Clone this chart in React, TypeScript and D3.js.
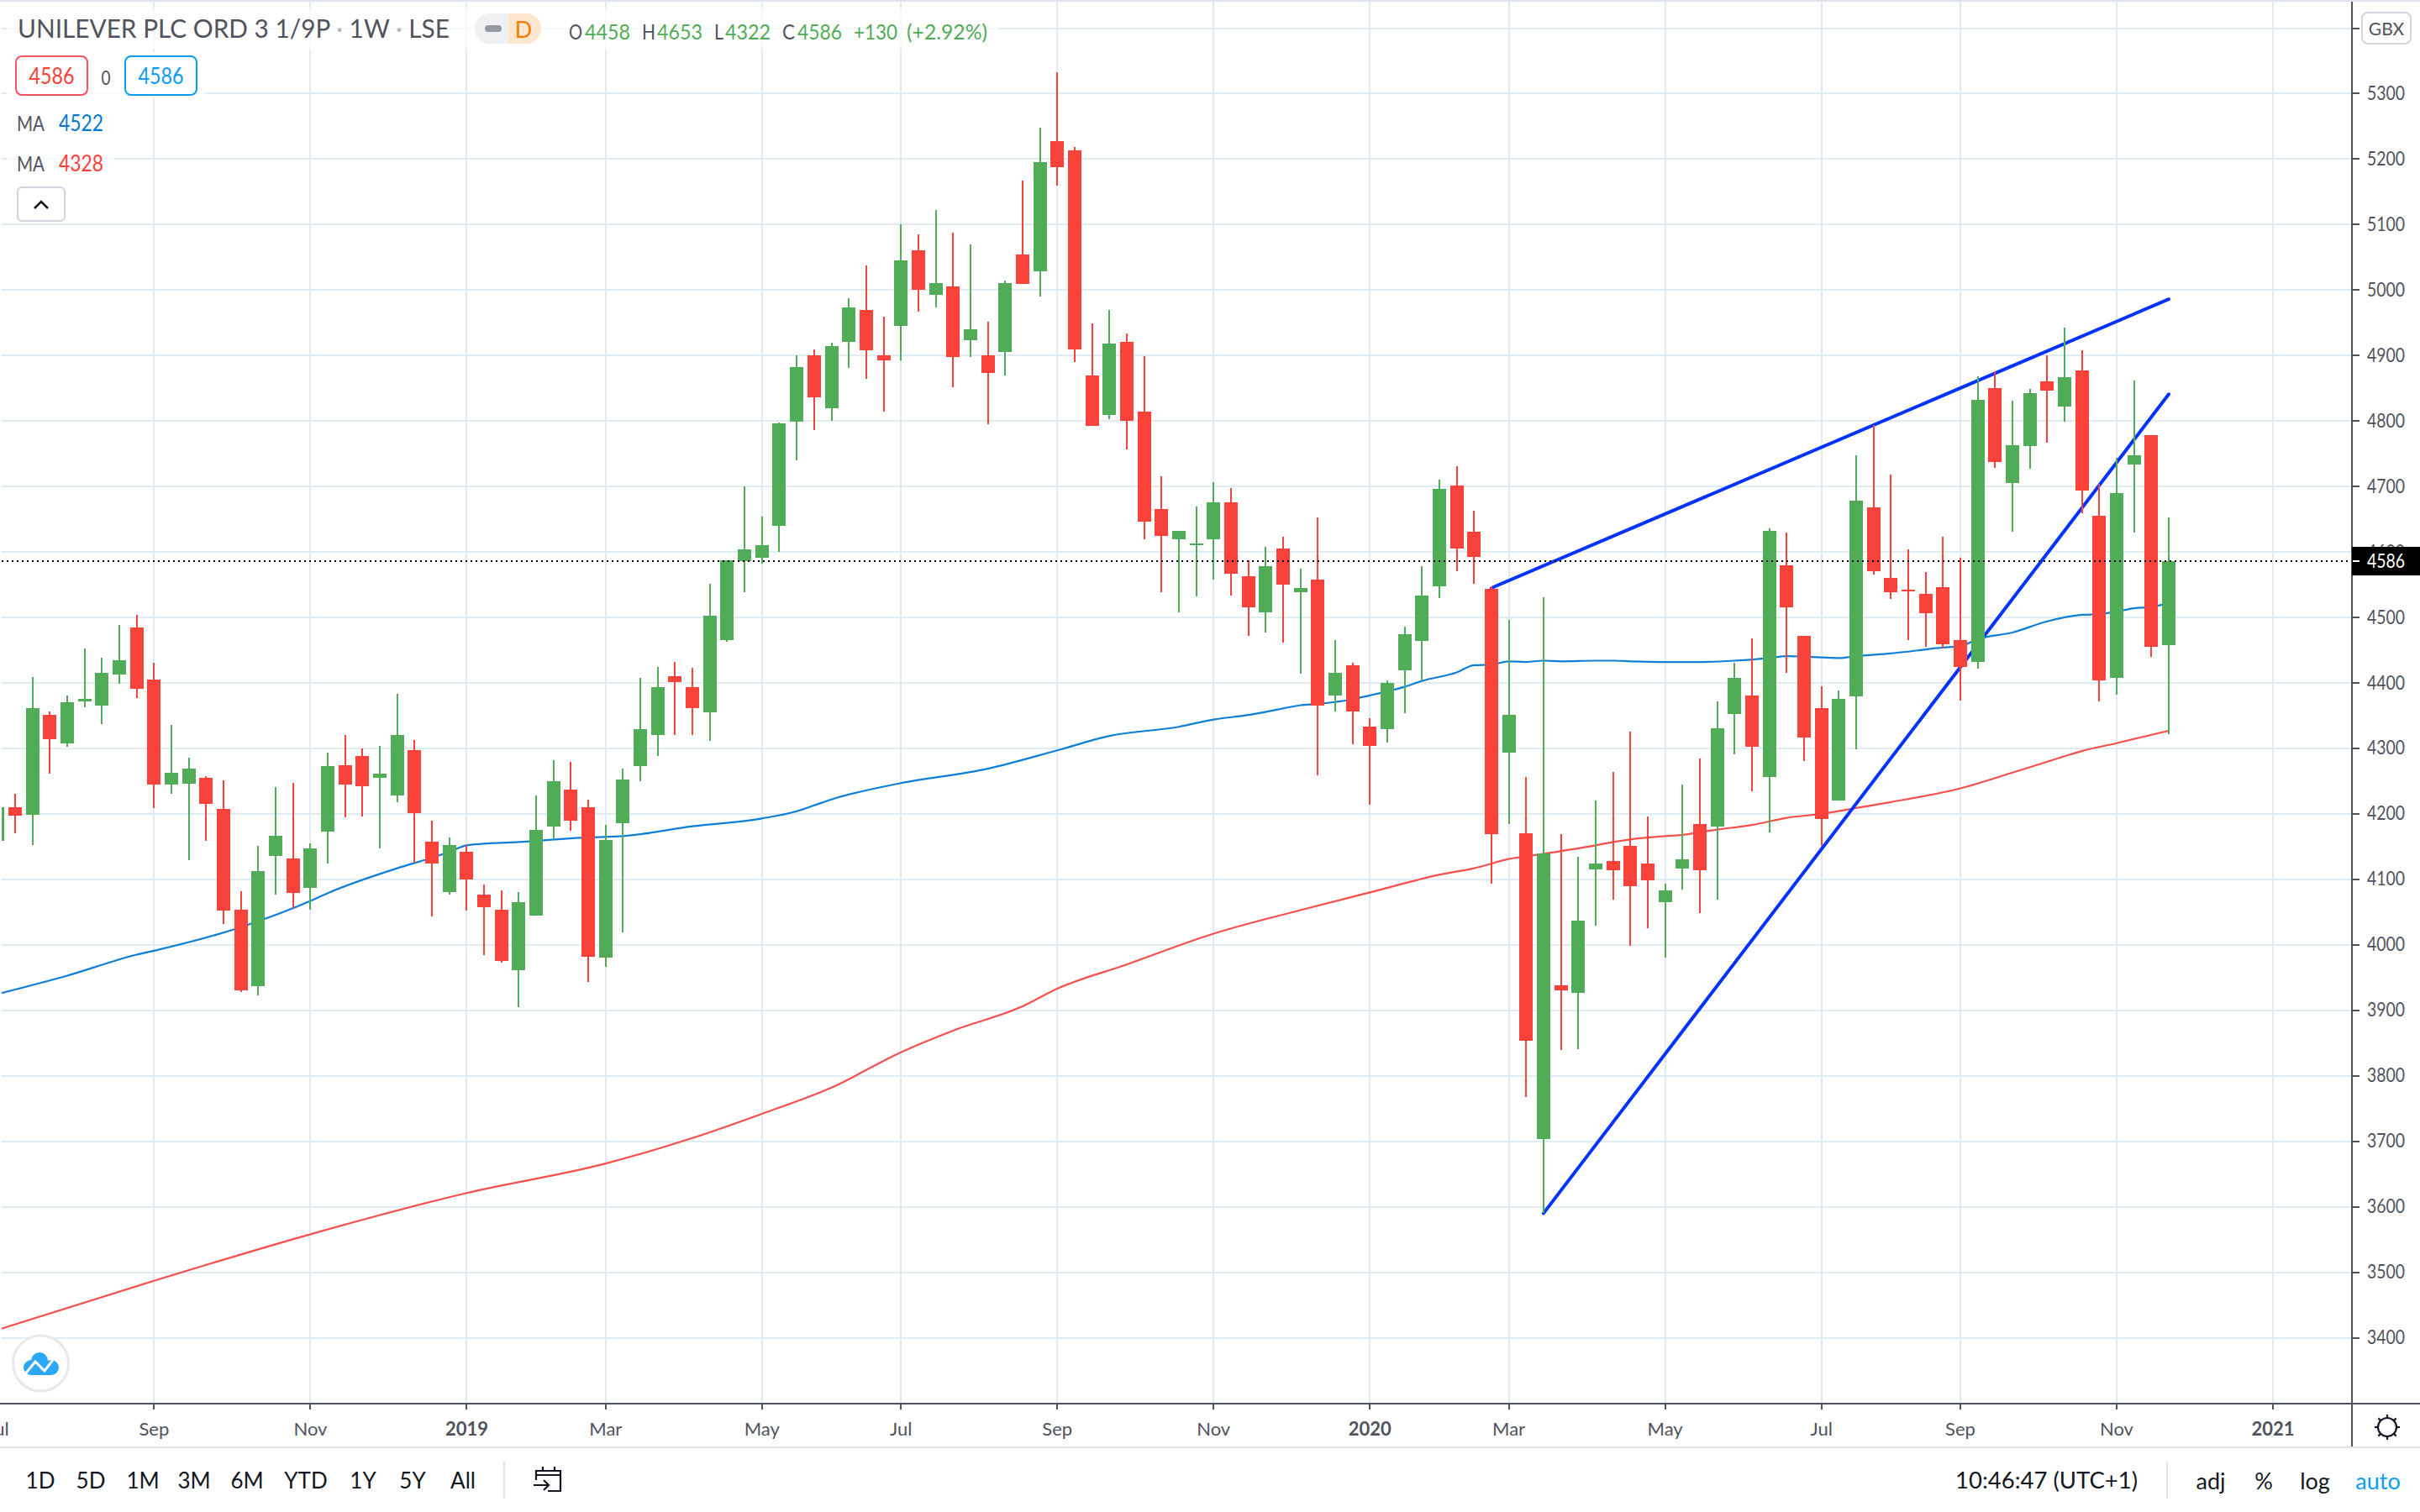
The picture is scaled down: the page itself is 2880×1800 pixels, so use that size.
import React from "react";
import * as d3 from "d3";

const opens = [4159,4210,4199,4351,4308,4372,4365,4413,4485,4405,4245,4246,4255,4208,4054,3937,4136,4132,4087,4173,4274,4288,4255,4228,4298,4157,4080,4142,4077,4054,3961,4045,4181,4237,4210,3980,4186,4273,4321,4410,4394,4355,4466,4586,4591,4640,4799,4900,4820,4921,4969,4900,4945,5061,4993,5005,4923,4900,4905,5054,5028,5228,5213,4869,4809,4921,4814,4665,4619,4611,4620,4676,4563,4508,4605,4538,4558,4381,4427,4333,4330,4419,4464,4547,4701,4631,4544,4294,4170,3704,3938,3927,4115,4128,4151,4124,4065,4116,4185,4180,4353,4381,4256,4579,4472,4361,4220,4380,4668,4560,4542,4536,4546,4466,4432,4850,4705,4762,4861,4822,4877,4655,4408,4734,4779,4458];
const highs = [4225,4231,4409,4356,4381,4452,4439,4489,4504,4431,4336,4286,4258,4251,4082,4151,4241,4247,4155,4293,4320,4300,4304,4383,4313,4189,4164,4152,4092,4083,4080,4228,4282,4279,4222,4183,4269,4408,4425,4432,4423,4551,4587,4700,4654,4798,4900,4909,4919,4988,5038,4959,5100,5085,5122,5088,5070,4952,5015,5167,5248,5333,5219,4949,4970,4934,4899,4715,4632,4670,4706,4697,4587,4608,4623,4574,4653,4466,4431,4346,4404,4486,4578,4710,4731,4663,4547,4496,4256,4531,4169,4135,4221,4264,4326,4196,4094,4245,4285,4372,4431,4468,4636,4630,4472,4395,4389,4748,4794,4718,4604,4569,4623,4591,4868,4876,4831,4849,4900,4943,4908,4704,4744,4862,4779,4653];
const lows = [4140,4170,4152,4261,4303,4363,4337,4399,4377,4209,4231,4129,4159,4032,3928,3923,4077,4056,4054,4124,4195,4196,4147,4218,4126,4044,4077,4052,3984,3973,3905,4045,4162,4174,3943,3966,4019,4250,4289,4321,4321,4312,4463,4539,4582,4600,4740,4786,4800,4881,4864,4815,4892,4967,4974,4852,4898,4795,4869,5009,4990,5160,4890,4793,4803,4756,4620,4539,4508,4532,4558,4534,4472,4477,4461,4414,4259,4356,4306,4214,4309,4354,4402,4529,4570,4551,4094,4184,3768,3590,3840,3841,4029,4069,3998,4025,3981,4084,4049,4069,4291,4235,4172,4416,4281,4151,4220,4299,4566,4528,4466,4455,4452,4373,4422,4729,4631,4727,4767,4799,4659,4372,4382,4629,4440,4322];
const closes = [4210,4197,4362,4314,4370,4375,4415,4435,4391,4245,4263,4269,4215,4052,3931,4112,4167,4079,4147,4273,4245,4242,4261,4320,4201,4124,4152,4100,4058,3975,4065,4176,4250,4189,3982,4160,4253,4329,4394,4401,4362,4503,4587,4604,4610,4796,4883,4836,4914,4973,4908,4893,5045,5001,5011,4898,4940,4873,5011,5009,5196,5188,4909,4793,4918,4800,4646,4625,4632,4613,4676,4567,4515,4578,4550,4545,4366,4416,4356,4304,4400,4474,4533,4696,4605,4592,4169,4351,3854,4139,3930,4037,4124,4114,4090,4098,4083,4131,4114,4331,4408,4303,4632,4516,4316,4192,4376,4678,4571,4538,4540,4507,4459,4425,4832,4738,4763,4842,4846,4867,4694,4404,4690,4748,4455,4586];

const blueMaIdx = [0,4,8,9,14,18,19,23,25,26,27,30,34,36,40,44,46,47,48,52,57,61,64,68,70,72,74,75,76,78,79,80,81,82,84,85,86,87,88,89,90,92,93,94,96,98,100,102,103,104,105,106,107,109,112,113,114,116,118,120,121,122,123,124,125];
const blueMaVal = [3925,3953,3985,3991,4027,4067,4079,4117,4133,4142,4152,4157,4164,4166,4181,4193,4204,4213,4222,4247,4269,4297,4319,4333,4344,4351,4361,4366,4368,4375,4381,4387,4394,4403,4416,4427,4428,4433,4432,4434,4433,4434,4434,4433,4432,4432,4434,4438,4441,4440,4439,4438,4441,4445,4454,4456,4467,4477,4494,4504,4505,4509,4514,4516,4522];
const redMaIdx = [0,9,18,27,35,40,44,48,52,55,59,61,65,70,75,79,83,85,87,89,92,93,94,96,97,99,101,103,105,107,109,113,116,119,120,122,125];
const redMaVal = [3412,3487,3558,3621,3666,3705,3742,3782,3836,3869,3906,3933,3970,4017,4053,4080,4107,4117,4131,4139,4152,4157,4161,4166,4168,4176,4183,4194,4200,4209,4218,4239,4263,4288,4296,4308,4327];

const trendLineA = [[86,4545],[125,4986]];
const trendLineB = [[89,3590],[125,4841]];

const priceTicks = [5300,5200,5100,5000,4900,4800,4700,4600,4500,4400,4300,4200,4100,4000,3900,3800,3700,3600,3500,3400];
const timeTickIdx = [0,9,18,27,35,44,52,61,70,79,87,96,105,113,122,131];
const timeTickLabels = ["Jul","Sep","Nov","2019","Mar","May","Jul","Sep","Nov","2020","Mar","May","Jul","Sep","Nov","2021"];
const yearLabels = ["2019","2020","2021"];
const rangeLabels = ["1D","5D","1M","3M","6M","YTD","1Y","5Y","All"];
const rangeCenters = [48,108,170,231,294,364,432,491,551];
const lastPrice = 4586;

const FONT = "Lato, 'Noto Sans', sans-serif";
const GREEN = "#50ac56";
const RED = "#f94239";
const GRID = "#e1ebf2";
const AXIS = "#50535e";
const INK = "#131722";

const x = d3.scaleLinear().domain([0, 125]).range([-2.6, 2581]);
const y = d3.scaleLinear().domain([4600, 3400]).range([657.1, 1592.5]);

function pathOf(idx: number[], val: number[]) {
  return d3
    .line<number>()
    .x((i) => x(idx[i]))
    .y((i) => y(val[i]))
    .curve(d3.curveMonotoneX)(d3.range(idx.length)) as string;
}

function T(p: any) {
  const { w, size = 22, fill = AXIS, anchor = "start", bold, children, ...rest } = p;
  return (
    <text
      fontFamily={FONT}
      fontSize={size}
      fill={fill}
      textAnchor={anchor}
      fontWeight={bold ? 700 : 400}
      dominantBaseline="central"
      textLength={w}
      lengthAdjust={w ? "spacingAndGlyphs" : undefined}
      {...rest}
    >
      {children}
    </text>
  );
}

export default function App() {
  return (
    <svg
      width={2880}
      height={1800}
      viewBox="0 0 2880 1800"
      style={{ position: "absolute", left: 0, top: 0, display: "block", background: "#fff" }}
    >
      <defs>
        <clipPath id="plot">
          <rect x={2} y={2} width={2796} height={1668} />
        </clipPath>
      </defs>
      <rect x={0} y={0} width={2880} height={2} fill="#e0e3eb" />

      <g stroke={GRID} strokeWidth={2}>
        {[5400, ...priceTicks].map((p) => (
          <line key={p} x1={2} x2={2798} y1={Math.round(y(p))} y2={Math.round(y(p))} />
        ))}
        {timeTickIdx.filter((i) => x(i) > 2).map((i) => (
          <line key={i} x1={Math.round(x(i))} x2={Math.round(x(i))} y1={2} y2={1670} />
        ))}
      </g>

      <g clipPath="url(#plot)">
        <path d={pathOf(blueMaIdx, blueMaVal)} fill="none" stroke="#0d7fd6" strokeWidth={2.2} />
        <path d={pathOf(redMaIdx, redMaVal)} fill="none" stroke="#f6504c" strokeWidth={2.2} />
        {[trendLineA, trendLineB].map((l, k) => (
          <line
            key={k}
            x1={x(l[0][0])}
            y1={y(l[0][1])}
            x2={x(l[1][0])}
            y2={y(l[1][1])}
            stroke="#0433ff"
            strokeWidth={4}
            strokeLinecap="round"
          />
        ))}
        {opens.map((o, i) => {
          const c = closes[i];
          const col = c >= o ? GREEN : RED;
          const top = Math.round(y(Math.max(o, c)));
          const bot = Math.round(y(Math.min(o, c)));
          const cx = Math.round(x(i));
          const hi = Math.round(y(highs[i]));
          const lo = Math.round(y(lows[i]));
          return (
            <g key={i} fill={col}>
              <rect x={cx - 1} width={2} y={hi} height={lo - hi} />
              <rect x={cx - 8} width={16} y={top} height={Math.max(bot - top, 2)} />
            </g>
          );
        })}
        <line x1={2} x2={2798} y1={Math.round(y(lastPrice))} y2={Math.round(y(lastPrice))} stroke="#000" strokeWidth={2} strokeDasharray="2 4" />
      </g>

      {/* overlay legend backing */}
      <g fill="#fff" fillOpacity={0.7}>
        <rect x={8} y={10} width={1180} height={48} />
        <rect x={8} y={62} width={236} height={56} />
        <rect x={8} y={124} width={128} height={90} />
      </g>

      {/* axes */}
      <line x1={2799} x2={2799} y1={2} y2={1722} stroke={AXIS} strokeWidth={2} />
      <line x1={0} x2={2880} y1={1671} y2={1671} stroke={AXIS} strokeWidth={2} />
      <rect x={0} y={1722} width={2880} height={2} fill="#e0e3eb" />
      {[5400, ...priceTicks].map((p) => (
        <line key={p} x1={2800} x2={2808} y1={Math.round(y(p))} y2={Math.round(y(p))} stroke={AXIS} strokeWidth={2} />
      ))}
      {priceTicks.map((p) => (
        <T key={p} x={2817} y={y(p) - 1.5} size={23} w={45}>
          {p}
        </T>
      ))}
      {timeTickIdx.map((i) =>
        x(i) > 0 ? <line key={i} x1={Math.round(x(i))} x2={Math.round(x(i))} y1={1671} y2={1678} stroke={AXIS} strokeWidth={2} /> : null
      )}
      {timeTickIdx.map((i, k) => (
        <T key={k} x={x(i)} y={1700} anchor="middle" bold={yearLabels.includes(timeTickLabels[k])}>
          {timeTickLabels[k]}
        </T>
      ))}

      {/* last price */}
      <rect x={2799} y={651} width={81} height={34} fill="#000" />
      <line x1={2800} x2={2808} y1={Math.round(y(lastPrice))} y2={Math.round(y(lastPrice))} stroke="#fff" strokeWidth={2} />
      <T x={2817} y={y(lastPrice) - 1} size={23} w={45} fill="#fff">
        {lastPrice}
      </T>

      {/* currency */}
      <rect x={2811} y={15} width={58} height={37} rx={7} fill="#fff" stroke="#d1d4dc" strokeWidth={2} />
      <T x={2840} y={33} anchor="middle" size={21}>
        GBX
      </T>

      {/* header */}
      <T x={21} y={33} size={30} w={514}>
        UNILEVER PLC ORD 3 1/9P <tspan fill="#b2b5be">·</tspan> 1W <tspan fill="#b2b5be">·</tspan> LSE
      </T>
      <path d="M605 16 H583 a18 18 0 0 0 0 36 H605 Z" fill="#eef0f2" />
      <path d="M605 16 H626 a18 18 0 0 1 0 36 H605 Z" fill="#ffe6cf" />
      <rect x={577} y={30} width={20} height={8} rx={4} fill="#9598a1" />
      <T x={623} y={34} anchor="middle" size={27} fill="#f57c00">
        D
      </T>
      <T x={677} y={37} size={25} w={16}>O</T>
      <T x={696} y={37} size={25} w={54} fill={GREEN}>4458</T>
      <T x={764} y={37} size={25} w={16}>H</T>
      <T x={782} y={37} size={25} w={54} fill={GREEN}>4653</T>
      <T x={850} y={37} size={25} w={11}>L</T>
      <T x={863} y={37} size={25} w={54} fill={GREEN}>4322</T>
      <T x={931} y={37} size={25} w={15}>C</T>
      <T x={949} y={37} size={25} w={53} fill={GREEN}>4586</T>
      <T x={1016} y={37} size={25} w={52} fill={GREEN}>+130</T>
      <T x={1079} y={37} size={25} w={96} fill={GREEN}>(+2.92%)</T>

      {/* pre/post boxes */}
      <rect x={19} y={67} width={85} height={46} rx={7} fill="#fff" stroke="#f7525f" strokeWidth={2} />
      <T x={61.5} y={90} anchor="middle" size={26} w={54} fill={RED}>4586</T>
      <T x={126} y={91} anchor="middle" size={24} w={11} fill={AXIS}>0</T>
      <rect x={149} y={67} width={85} height={46} rx={7} fill="#fff" stroke="#0a9df5" strokeWidth={2} />
      <T x={191.5} y={90} anchor="middle" size={26} w={54} fill="#0a9df5">4586</T>
      <T x={20} y={146} size={25} w={33}>MA</T>
      <T x={70} y={146} size={26} w={53} fill="#0078d0">4522</T>
      <T x={20} y={194} size={25} w={33}>MA</T>
      <T x={70} y={194} size={26} w={53} fill={RED}>4328</T>
      <rect x={21} y={223} width={56} height={40} rx={5} fill="#fff" stroke="#d1d4dc" strokeWidth={2} />
      <path d="M41 248 L49 240 L57 248" fill="none" stroke={INK} strokeWidth={2.6} />

      {/* logo */}
      <circle cx={48.5} cy={1623} r={33} fill="#fff" stroke="#e8e8e8" strokeWidth={3} />
      <g fill="#2ba8f5">
        <circle cx={37} cy={1628} r={9} />
        <circle cx={47} cy={1620} r={10} />
        <circle cx={61} cy={1628} r={9} />
        <rect x={37} y={1624} width={24} height={13} />
      </g>
      <path d="M29 1637 L42 1621 L53 1632 L63 1619" fill="none" stroke="#fff" strokeWidth={3} />

      {/* toolbar */}
      {rangeLabels.map((l, i) => (
        <T key={l} x={rangeCenters[i]} y={1762} anchor="middle" size={26} fill={INK}>
          {l}
        </T>
      ))}
      <rect x={599} y={1740} width={2} height={44} fill="#e0e3eb" />
      <g fill="none" stroke={INK} strokeWidth={2.2}>
        <path d="M638 1762 V1751 H667 V1775 H652" />
        <path d="M638 1756 H667 M646 1746 V1751 M660 1746 V1751" />
        <path d="M635 1768 H653 M647 1762 L653 1768 L647 1774" />
      </g>
      <T x={2544} y={1762} anchor="end" size={26} w={217} fill={INK}>
        10:46:47 (UTC+1)
      </T>
      <rect x={2578} y={1740} width={2} height={44} fill="#e0e3eb" />
      <T x={2631} y={1762} anchor="middle" size={27} fill={INK}>adj</T>
      <T x={2694} y={1762} anchor="middle" size={27} fill={INK}>%</T>
      <T x={2755} y={1762} anchor="middle" size={27} fill={INK}>log</T>
      <T x={2830} y={1762} anchor="middle" size={27} fill="#0a9df5">auto</T>

      {/* settings */}
      <g stroke={INK} strokeWidth={2.2} fill="none">
        <circle cx={2841} cy={1699} r={11} />
        {d3.range(8).map((k) => {
          const a = (k * Math.PI) / 4;
          return (
            <line
              key={k}
              x1={2841 + 11 * Math.cos(a)}
              y1={1699 + 11 * Math.sin(a)}
              x2={2841 + 15 * Math.cos(a)}
              y2={1699 + 15 * Math.sin(a)}
            />
          );
        })}
      </g>
    </svg>
  );
}
